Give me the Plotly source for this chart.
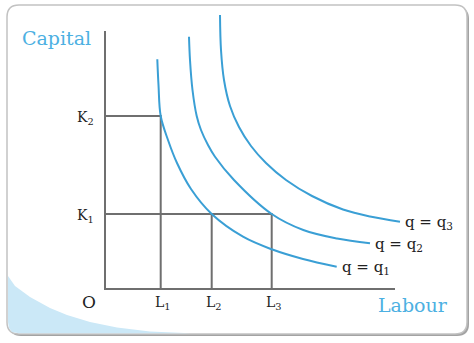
import plotly.graph_objects as go

# ---------------- data (units: 1 = 10 px of the reference) ----------------
labour_ticks = [5.57, 10.67, 16.67]
labour_labels = ["L<sub>1</sub>", "L<sub>2</sub>", "L<sub>3</sub>"]
capital_ticks = [7.5, 17.3]
capital_labels = ["K<sub>1</sub>", "K<sub>2</sub>"]
# (labour index, capital index) combinations marked by guide lines
guide_pairs = [(0, 1), (1, 0), (2, 0)]

q1_x = [5.23, 5.35, 5.57, 6.3, 7.2, 8.6, 10.67, 13.8, 16.67, 19.8, 23.17]
q1_y = [22.97, 20.4, 17.3, 14.9, 12.6, 10.0, 7.5, 5.23, 3.97, 3.0, 2.23]
q2_x = [8.4, 8.5, 8.75, 9.17, 9.6, 10.3, 11.0, 12.9, 16.67, 19.83, 23.2, 26.5]
q2_y = [25.23, 22.9, 19.9, 17.3, 15.9, 14.4, 13.23, 10.9, 7.5, 5.9, 5.05, 4.57]
q3_x = [11.5, 11.6, 11.9, 12.5, 13.4, 14.6, 16.1, 18.1, 20.7, 23.8, 26.5, 29.5]
q3_y = [27.4, 23.9, 20.9, 18.3, 16.2, 14.3, 12.6, 10.9, 9.3, 7.95, 7.25, 6.73]
curve_labels = ["q = q<sub>1</sub>", "q = q<sub>2</sub>", "q = q<sub>3</sub>"]

axis_x_max = 29.0
axis_y_max = 25.8

BLUE = "#3a9fd5"
TXT_BLUE = "#4cb0e2"
GREY = "#6f6f6f"
SERIF = "DejaVu Serif"

W, H = 474, 343
OX, OY = 105, 289  # origin in pixels


def d(px, py):
    return (px - OX) / 10.0, (OY - py) / 10.0


def rrect_path(x0, y0, x1, y1, r):
    pts = []
    a = d(x0 + r, y0); pts.append(f"M{a[0]},{a[1]}")
    b = d(x1 - r, y0); pts.append(f"L{b[0]},{b[1]}")
    c = d(x1, y0); e = d(x1, y0 + r); pts.append(f"Q{c[0]},{c[1]} {e[0]},{e[1]}")
    f = d(x1, y1 - r); pts.append(f"L{f[0]},{f[1]}")
    c = d(x1, y1); e = d(x1 - r, y1); pts.append(f"Q{c[0]},{c[1]} {e[0]},{e[1]}")
    f = d(x0 + r, y1); pts.append(f"L{f[0]},{f[1]}")
    c = d(x0, y1); e = d(x0, y1 - r); pts.append(f"Q{c[0]},{c[1]} {e[0]},{e[1]}")
    f = d(x0, y0 + r); pts.append(f"L{f[0]},{f[1]}")
    c = d(x0, y0); e = d(x0 + r, y0); pts.append(f"Q{c[0]},{c[1]} {e[0]},{e[1]}")
    return " ".join(pts) + " Z"


def poly_path(points):
    s = []
    for i, (px, py) in enumerate(points):
        x, y = d(px, py)
        s.append(("M" if i == 0 else "L") + f"{x},{y}")
    return " ".join(s) + " Z"


fig = go.Figure()

# axes
fig.add_trace(go.Scatter(x=[0, 0, axis_x_max], y=[axis_y_max, 0, 0], mode="lines",
                         line=dict(color=GREY, width=2), hoverinfo="skip"))

# guide lines
gx, gy = [], []
for li, ki in guide_pairs:
    L, K = labour_ticks[li], capital_ticks[ki]
    gx += [0, L, L, None]
    gy += [K, K, 0, None]
fig.add_trace(go.Scatter(x=gx, y=gy, mode="lines", line=dict(color=GREY, width=2),
                         hoverinfo="skip"))

# isoquants
curves = [(q1_x, q1_y), (q2_x, q2_y), (q3_x, q3_y)]
for cx, cy in curves:
    fig.add_trace(go.Scatter(x=cx, y=cy, mode="lines",
                             line=dict(color=BLUE, width=2, shape="spline", smoothing=1.0),
                             hoverinfo="skip"))

ann = []
for (cx, cy), lab in zip(curves, curve_labels):
    ann.append(dict(x=cx[-1], y=cy[-1], text=lab, showarrow=False, xanchor="left",
                    yanchor="middle", xshift=3, yshift=-1,
                    font=dict(family=SERIF, size=15, color="#222")))
for L, lab in zip(labour_ticks, labour_labels):
    ann.append(dict(x=L, y=0, text=lab, showarrow=False, xanchor="center", yanchor="top",
                    xshift=2, yshift=-3, font=dict(family=SERIF, size=14, color="#222")))
for K, lab in zip(capital_ticks, capital_labels):
    ann.append(dict(x=0, y=K, text=lab, showarrow=False, xanchor="right", yanchor="middle",
                    xshift=-9, yshift=-2, font=dict(family=SERIF, size=14, color="#222")))
ann.append(dict(x=0, y=0, text="O", showarrow=False, xanchor="right", yanchor="top",
                xshift=-7, yshift=-1, font=dict(family=SERIF, size=17, color="#222")))
cx_, cy_ = d(56, 38)
ann.append(dict(x=cx_, y=cy_, text="Capital", showarrow=False, xanchor="center",
                yanchor="middle", font=dict(family=SERIF, size=19, color=TXT_BLUE)))
lx_, ly_ = d(413, 305)
ann.append(dict(x=lx_, y=ly_, text="Labour", showarrow=False, xanchor="center",
                yanchor="middle", font=dict(family=SERIF, size=19, color=TXT_BLUE)))

shapes = [
    dict(type="path", path=rrect_path(9, 7, 469, 336, 12), xref="x", yref="y",
         fillcolor="#a3a3a3", line=dict(width=0), layer="below"),
    dict(type="path", path=rrect_path(7, 5, 467, 334, 12), xref="x", yref="y",
         fillcolor="white", line=dict(color="#c2c2c2", width=1.5), layer="below"),
    dict(type="path",
         path=poly_path([(8, 276), (15, 286), (30, 297), (50, 308), (67, 315), (90, 322),
                         (117, 327.5), (150, 331.5), (190, 333.3), (19, 333.3), (12, 332),
                         (9, 328), (8, 322)]),
         xref="x", yref="y", fillcolor="#cbe8f7", line=dict(width=0), layer="below"),
]

x0, _ = d(0, 0); x1, _ = d(W, 0)
_, y0 = d(0, H); _, y1 = d(0, 0)
fig.update_layout(
    width=W, height=H, margin=dict(l=0, r=0, t=0, b=0), autosize=False,
    paper_bgcolor="white", plot_bgcolor="white", showlegend=False,
    xaxis=dict(range=[x0, x1], visible=False, fixedrange=True),
    yaxis=dict(range=[y0, y1], visible=False, fixedrange=True),
    annotations=ann, shapes=shapes,
)
fig.write_html("out.html", config={"displayModeBar": False})
